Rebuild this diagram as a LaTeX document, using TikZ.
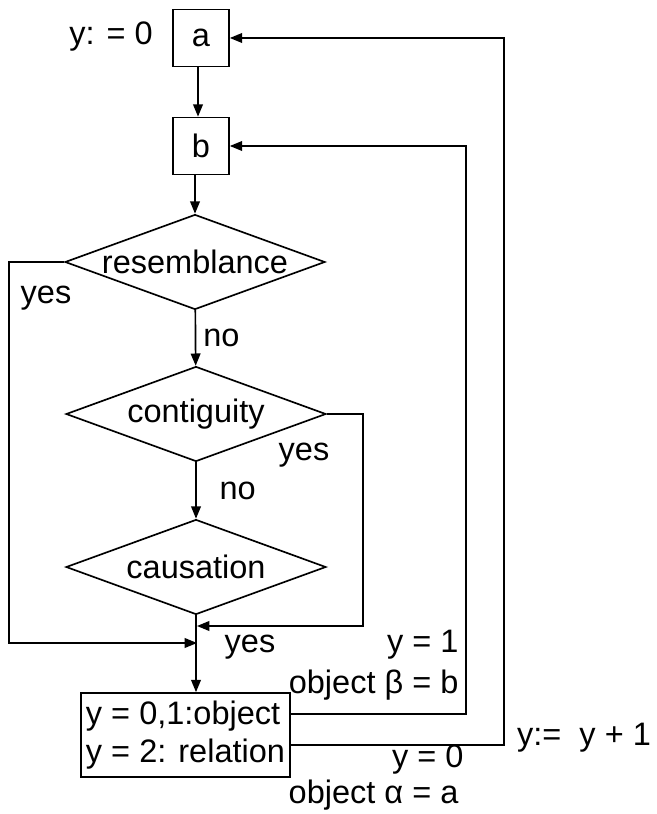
\documentclass[tikz,border=0pt]{standalone}
\usepackage{fontspec}
\setmainfont{Liberation Sans}
\usetikzlibrary{positioning, arrows.meta, shapes.geometric}

\begin{document}
\begin{tikzpicture}[
		x=0.02cm, y=-0.02cm,
		>={Triangle[length=7pt, width=5.5pt]},
		font=\fontsize{18.5}{21.5}\selectfont,
		line width=0.95pt,
		% Small square boxes for the two objects
		letterbox/.style={
				rectangle, draw, minimum width=1.12cm, minimum height=1.14cm, inner sep=0pt
			},
		% Decision diamonds (text set as a centred label so the size is fixed)
		decision/.style={
				diamond, draw, minimum width=5.2cm, minimum height=1.9cm,
				inner sep=0pt, label={center:#1}
			},
		% Output box
		outbox/.style={
				rectangle, draw, minimum width=4.18cm, minimum height=1.68cm,
				align=left, inner sep=2pt
			},
		% Arrows and labels
		flow/.style={->},
		lab/.style={inner sep=1pt}
	]

	\useasboundingbox (0,0) rectangle (656,814);

	% ==========================================
	% 1. MAIN VERTICAL CHAIN
	% ==========================================

	\node[letterbox] (boxa) at (201,38) {a};
	\node[letterbox] (boxb) at (201,146) {b};

	\node[decision=resemblance] (resem) at (195,262) {};
	\node[decision=contiguity] (contig) at (196,414) {};
	\node[decision=causation] (causat) at (196,567) {};

	\node[outbox] (result) at (185.5,735) {y = 0,1:object\\y = 2: relation};

	% merge points on the line above the output box
	\coordinate (joinyes) at (197,626);
	\coordinate (joinno) at (197,643);


	% ==========================================
	% 2. DOWNWARD FLOW
	% ==========================================

	\draw[flow] ([xshift=-0.06cm]boxa.south) -- ([xshift=-0.06cm]boxb.north);
	\draw[flow] (boxb.south -| resem.north) -- (resem.north);
	\draw[flow] (resem) -- node[lab, right=3pt] {no} (contig);
	\draw[flow] (contig) -- node[lab, right=12pt] {no} (causat);
	\draw[flow] (causat.south) -- (causat.south |- result.north);

	% "yes" branches joining the main line
	\draw[flow] (resem.west) -- ++(-55,0) |- (joinno);
	\draw[flow] (contig.east) -- ++(36,0) |- (joinyes);


	% ==========================================
	% 3. FEEDBACK LOOPS
	% ==========================================

	\draw[flow] ([yshift=0.42cm]result.east) -- ++(175,0) |- (boxb.east);
	\draw[flow] ([yshift=-0.2cm]result.east) -- ++(213,0) |- (boxa.east);


	% ==========================================
	% 4. LABELS
	% ==========================================

	\node[lab] (init) at (111,37) {y: = 0};
	\node[lab] (yesres) at (46,298) {yes};
	\node[lab] (yescont) at (304,455) {yes};
	\node[lab] (yescaus) at (250,647) {yes};

	\node[lab, anchor=east] (ybeta) at (461,645) {y = 1};
	\node[lab, anchor=east] (objbeta) at (461,685) {object β = b};
	\node[lab] (incr) at (584,738) {y:=\ \ y + 1};
	\node[lab, anchor=east] (yalpha) at (466,760) {y = 0};
	\node[lab, anchor=east] (objalpha) at (461,795) {object α = a};

\end{tikzpicture}
\end{document}
